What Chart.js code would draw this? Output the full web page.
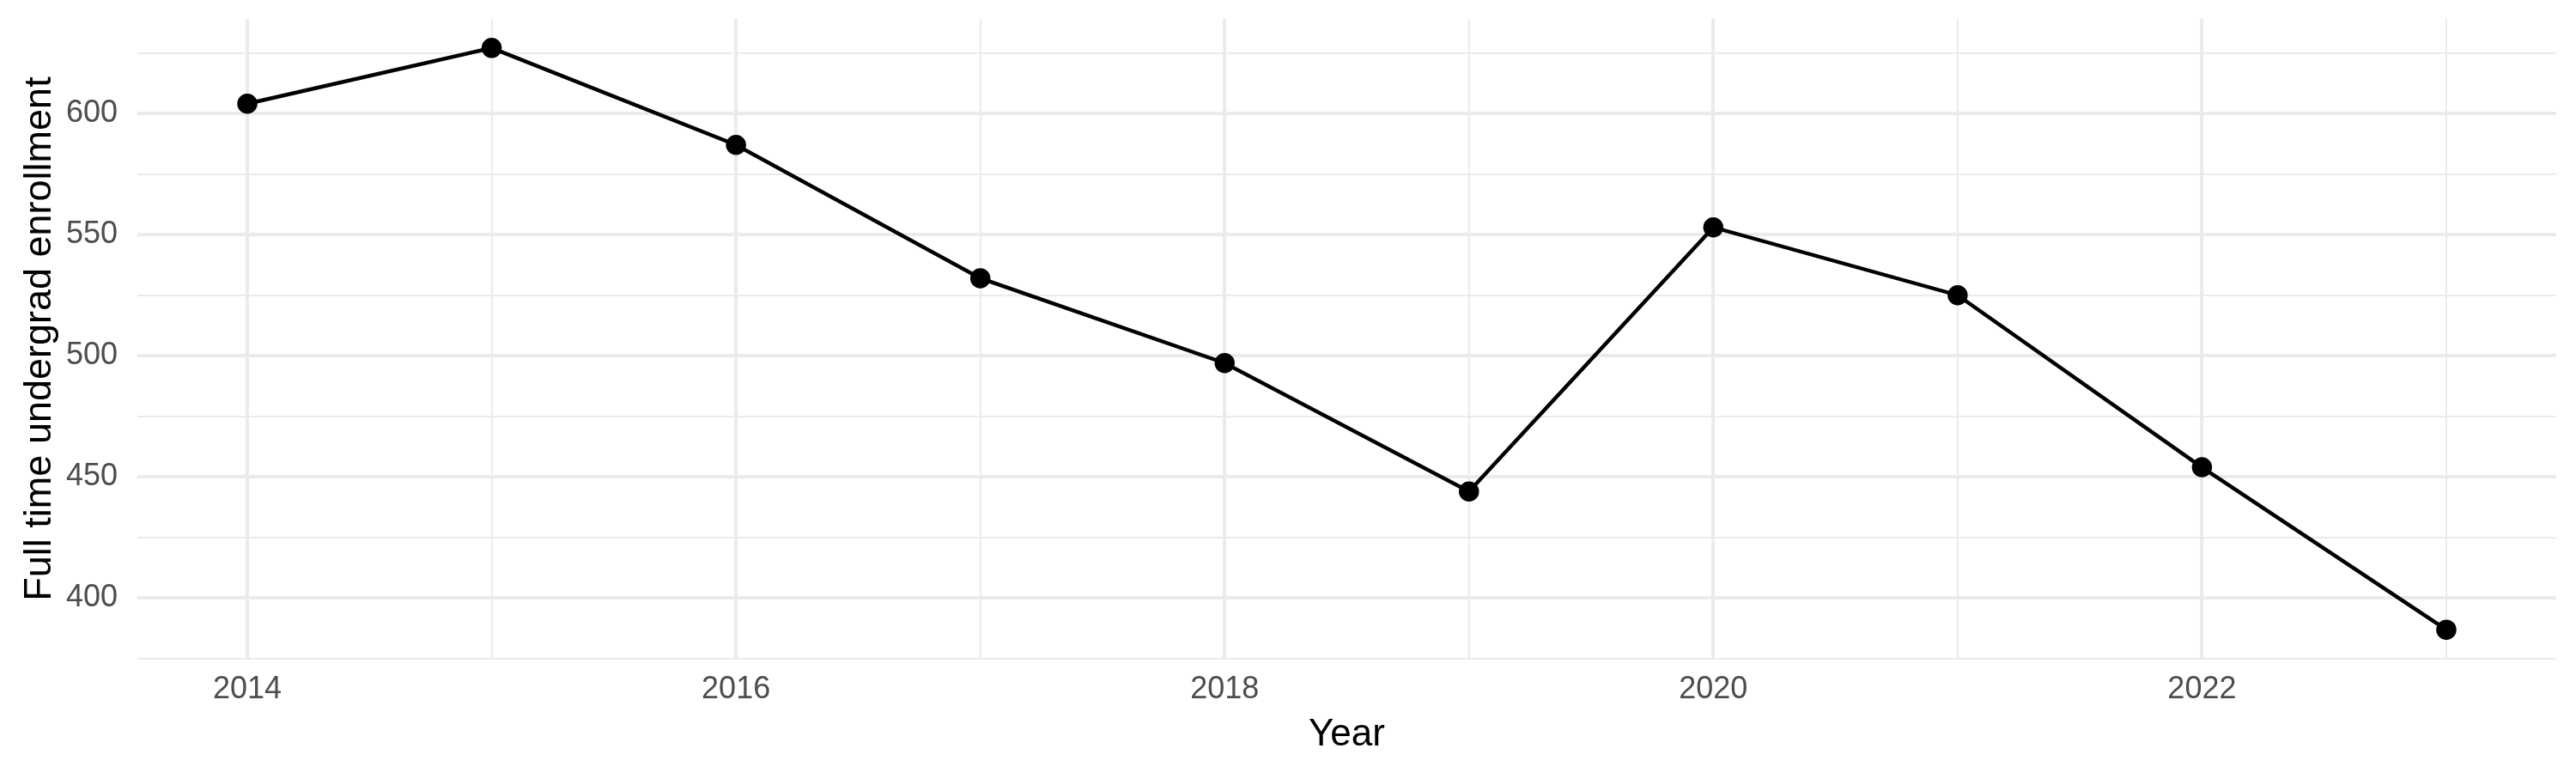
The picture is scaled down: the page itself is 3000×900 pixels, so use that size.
<!DOCTYPE html>
<html>
<head>
<meta charset="utf-8">
<script src="https://cdn.jsdelivr.net/npm/chart.js@4.4.1/dist/chart.umd.min.js"></script>
<style>
  html, body { margin: 0; padding: 0; background: #fff; }
  #wrap { width: 3000px; height: 900px; }
</style>
</head>
<body>
<div id="wrap"><canvas id="enrollment" width="3000" height="900"></canvas></div>
<script>
// data
const years = [2014, 2015, 2016, 2017, 2018, 2019, 2020, 2021, 2022, 2023];
const enrollment = [604, 627, 587, 532, 497, 444, 553, 525, 454, 387];
// major ticks get a label, minor ones only a grid line
const xMajor = [2014, 2016, 2018, 2020, 2022];
const xGrid = [2014, 2015, 2016, 2017, 2018, 2019, 2020, 2021, 2022, 2023];
const yMajor = [400, 450, 500, 550, 600];
const yGrid = [375, 400, 425, 450, 475, 500, 525, 550, 575, 600, 625];

const gridMajor = '#ebebeb';
const tickColor = '#4d4d4d';
const font = "'Liberation Sans', Arial, sans-serif";

const ctx = document.getElementById('enrollment').getContext('2d');

var enrollmentChart = new Chart(ctx, {
    type: 'line',
    data: {
        datasets: [{
            label: 'Full time undergrad enrollment',
            data: years.map((y, i) => ({ x: y, y: enrollment[i] })),
            borderColor: '#000',
            backgroundColor: '#000',
            borderWidth: 4.5,
            pointRadius: 9.5,
            pointHoverRadius: 9.5,
            tension: 0
        }]
    },
    options: {
        responsive: false,
        animation: false,
        devicePixelRatio: 1,
        layout: {
            padding: { top: 22, right: 23, left: 20, bottom: 0 }
        },
        plugins: {
            legend: { display: false },
            tooltip: { enabled: false }
        },
        scales: {
            x: {
                type: 'linear',
                min: 2013.55,
                max: 2023.45,
                afterBuildTicks: (scale) => {
                    scale.ticks = xGrid.map(v => ({ value: v }));
                },
                afterFit: (scale) => {
                    scale.height = 133;
                    scale.paddingLeft = 0;
                    scale.paddingRight = 0;
                },
                border: { display: false },
                grid: {
                    drawTicks: false,
                    color: gridMajor,
                    lineWidth: (c) => xMajor.includes(c.tick.value) ? 4 : 2
                },
                ticks: {
                    autoSkip: false,
                    maxRotation: 0,
                    padding: 14,
                    color: tickColor,
                    font: { family: font, size: 36 },
                    callback: (v) => xMajor.includes(v) ? String(v) : ''
                },
                title: {
                    display: true,
                    text: 'Year',
                    color: '#000',
                    font: { family: font, size: 44 },
                    padding: { top: 0, bottom: 18 }
                }
            },
            y: {
                min: 375,
                max: 639,
                afterBuildTicks: (scale) => {
                    scale.ticks = yGrid.map(v => ({ value: v }));
                },
                afterFit: (scale) => {
                    scale.width = 140;
                    scale.paddingTop = 0;
                    scale.paddingBottom = 0;
                },
                border: { display: false },
                grid: {
                    drawTicks: false,
                    color: gridMajor,
                    lineWidth: (c) => yMajor.includes(c.tick.value) ? 4 : 2
                },
                ticks: {
                    autoSkip: false,
                    padding: 23,
                    color: tickColor,
                    font: { family: font, size: 36 },
                    callback: (v) => yMajor.includes(v) ? String(v) : ''
                },
                title: {
                    display: true,
                    text: 'Full time undergrad enrollment',
                    color: '#000',
                    font: { family: font, size: 45 },
                    padding: { top: 0, bottom: 0 }
                }
            }
        }
    }
});
</script>
</body>
</html>
